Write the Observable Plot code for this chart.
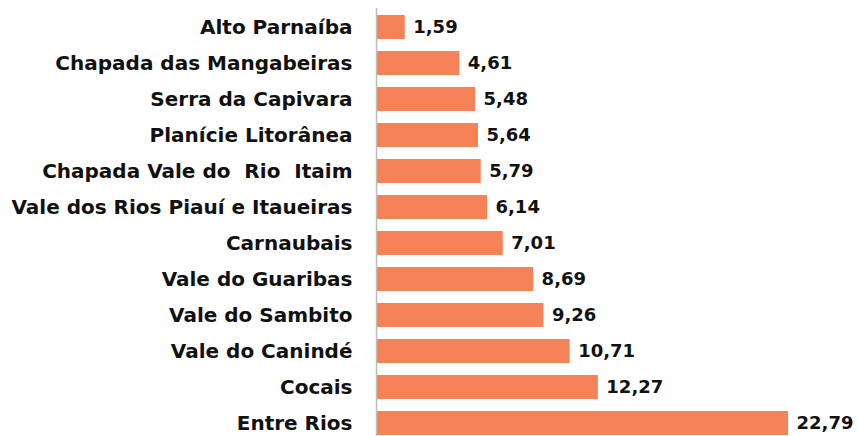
<!DOCTYPE html>
<html>
<head>
<meta charset="utf-8">
<script src="https://cdn.jsdelivr.net/npm/d3@7"></script>
<script src="https://cdn.jsdelivr.net/npm/@observablehq/plot@0.6"></script>
<style>
  html, body { margin: 0; padding: 0; background: #fff; }
  svg text { white-space: pre; }
</style>
</head>
<body>
<div id="chart"></div>
<script>
const regions = [
  "Alto Parnaíba",
  "Chapada das Mangabeiras",
  "Serra da Capivara",
  "Planície Litorânea",
  "Chapada Vale do  Rio  Itaim",
  "Vale dos Rios Piauí e Itaueiras",
  "Carnaubais",
  "Vale do Guaribas",
  "Vale do Sambito",
  "Vale do Canindé",
  "Cocais",
  "Entre Rios"
];
const values = [1.59, 4.61, 5.48, 5.64, 5.79, 6.14, 7.01, 8.69, 9.26, 10.71, 12.27, 22.79];

const data = regions.map((r, i) => ({region: r, value: values[i]}));
const fmt = v => v.toFixed(2).replace(".", ",");
const font = "'DejaVu Sans', sans-serif";

const chart = Plot.plot({
  width: 858,
  height: 436,
  marginLeft: 376,
  marginRight: 30,
  marginTop: 8,
  marginBottom: -6,
  style: {fontFamily: font, background: "#fff", overflow: "hidden"},
  x: {domain: [0, 25], axis: null},
  y: {domain: regions, axis: null, paddingInner: 0.34, paddingOuter: 0.166},
  marks: [
    Plot.barX(data, {x: "value", y: "region", fill: "#F68357"}),
    Plot.ruleX([0], {stroke: "#bdbdbd", strokeWidth: 1.5}),
    Plot.text(data, {x: 0, y: "region", text: "region", textAnchor: "end", dx: -24,
      fontSize: 20, fontWeight: "bold", fill: "#111"}),
    Plot.text(data, {x: "value", y: "region", text: d => fmt(d.value), textAnchor: "start", dx: 8,
      fontSize: 18, fontWeight: "bold", fill: "#111"})
  ]
});
document.getElementById("chart").appendChild(chart);
</script>
</body>
</html>
